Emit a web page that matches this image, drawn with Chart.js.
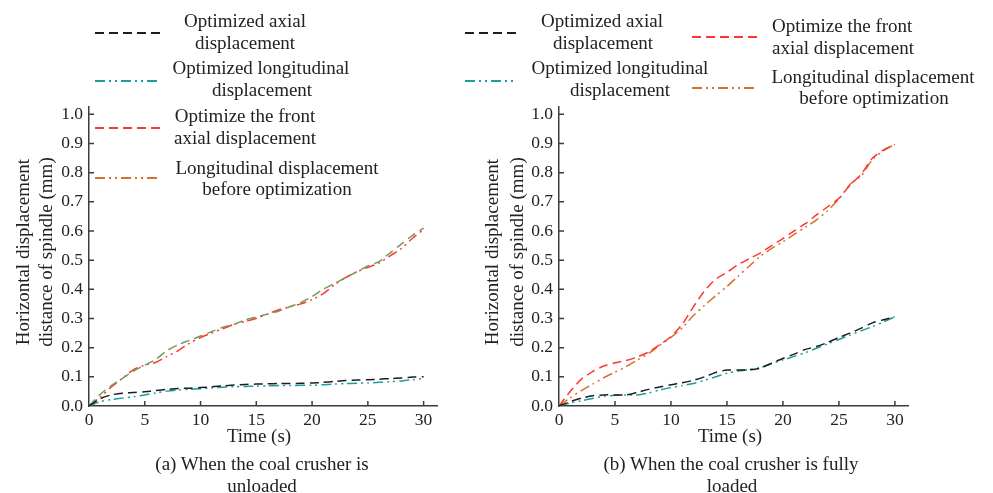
<!DOCTYPE html>
<html><head><meta charset="utf-8">
<script src="https://cdn.jsdelivr.net/npm/chart.js@4/dist/chart.umd.min.js"></script>
<style>
html,body{margin:0;padding:0;background:#fff;}
#wrap{position:relative;width:993px;height:493px;overflow:hidden;font-family:"Liberation Serif","Times New Roman",serif;color:#222;}
canvas{position:absolute;top:0;}
.t{position:absolute;white-space:nowrap;transform:translate(-50%,-50%);font-size:19px;line-height:1;}
.l{position:absolute;white-space:nowrap;transform:translate(0,-50%);font-size:19px;line-height:1;}
.r{position:absolute;white-space:nowrap;transform:translate(-50%,-50%) rotate(-90deg);font-size:19px;line-height:1;}
</style></head>
<body><div id="wrap">
<canvas id="c1" width="455" height="493" style="left:0"></canvas>
<canvas id="c2" width="538" height="493" style="left:455px"></canvas>

<div class="t" style="left:245px;top:20px">Optimized axial</div>
<div class="t" style="left:245px;top:42px">displacement</div>
<div class="t" style="left:261px;top:67px">Optimized longitudinal</div>
<div class="t" style="left:262px;top:89px">displacement</div>
<div class="t" style="left:245px;top:115px">Optimize the front</div>
<div class="t" style="left:245px;top:137px">axial displacement</div>
<div class="t" style="left:277px;top:167px">Longitudinal displacement</div>
<div class="t" style="left:277px;top:188px">before optimization</div>

<div class="t" style="left:602px;top:20px">Optimized axial</div>
<div class="t" style="left:603px;top:42px">displacement</div>
<div class="t" style="left:620px;top:67px">Optimized longitudinal</div>
<div class="t" style="left:620px;top:89px">displacement</div>
<div class="l" style="left:772px;top:25px">Optimize the front</div>
<div class="l" style="left:772px;top:47px">axial displacement</div>
<div class="t" style="left:873px;top:76px">Longitudinal displacement</div>
<div class="t" style="left:874px;top:97px">before optimization</div>

<div class="r" style="left:22px;top:252px">Horizontal displacement</div>
<div class="r" style="left:45px;top:252px">distance of spindle (mm)</div>
<div class="r" style="left:491px;top:252px">Horizontal displacement</div>
<div class="r" style="left:516px;top:252px">distance of spindle (mm)</div>

<div class="t" style="left:259px;top:435px">Time (s)</div>
<div class="t" style="left:730px;top:435px">Time (s)</div>
<div class="t" style="left:262px;top:463px">(a) When the coal crusher is</div>
<div class="t" style="left:262px;top:485px">unloaded</div>
<div class="t" style="left:731px;top:463px">(b) When the coal crusher is fully</div>
<div class="t" style="left:732px;top:485px">loaded</div>
</div>
<script>
// ---- data ----
const time = [0,1,2,3,4,5,6,7,8,9,10,11,12,13,14,15,16,17,18,19,20,21,22,23,24,25,26,27,28,29,30];
const xTicks = [0,5,10,15,20,25,30];
const yTicks = [0,0.1,0.2,0.3,0.4,0.5,0.6,0.7,0.8,0.9,1.0];

// (a) unloaded
const unloadedAxialOpt = [0,0.025,0.038,0.044,0.046,0.049,0.053,0.057,0.060,0.061,0.063,0.066,0.069,0.072,0.074,0.075,0.076,0.077,0.077,0.078,0.079,0.081,0.084,0.087,0.089,0.090,0.092,0.094,0.096,0.099,0.100];
const unloadedLongOpt = [0,0.015,0.022,0.027,0.032,0.038,0.045,0.051,0.055,0.057,0.059,0.062,0.064,0.066,0.067,0.068,0.069,0.070,0.070,0.071,0.071,0.073,0.075,0.077,0.078,0.079,0.081,0.083,0.086,0.090,0.095];
const unloadedFrontAxial = [0,0.040,0.070,0.095,0.120,0.140,0.160,0.190,0.210,0.225,0.240,0.255,0.270,0.280,0.295,0.305,0.315,0.325,0.340,0.355,0.375,0.400,0.420,0.440,0.460,0.480,0.495,0.525,0.555,0.585,0.610];
const unloadedLongBefore = [0,0.030,0.065,0.095,0.125,0.140,0.150,0.170,0.190,0.215,0.235,0.250,0.265,0.280,0.290,0.300,0.315,0.330,0.340,0.350,0.365,0.385,0.415,0.440,0.460,0.475,0.490,0.515,0.540,0.575,0.605];

// (b) fully loaded
const loadedAxialOpt = [0,0.015,0.027,0.035,0.038,0.038,0.038,0.047,0.057,0.065,0.073,0.080,0.088,0.100,0.115,0.123,0.123,0.124,0.130,0.147,0.163,0.178,0.194,0.204,0.218,0.235,0.250,0.267,0.285,0.296,0.306];
const loadedLongOpt = [0,0.010,0.018,0.026,0.033,0.037,0.038,0.038,0.045,0.055,0.063,0.070,0.077,0.088,0.100,0.112,0.120,0.125,0.132,0.145,0.158,0.170,0.183,0.198,0.213,0.228,0.243,0.258,0.272,0.289,0.306];
const loadedFrontAxial = [0,0.050,0.092,0.118,0.137,0.148,0.156,0.168,0.185,0.210,0.238,0.280,0.340,0.395,0.435,0.458,0.485,0.505,0.525,0.550,0.574,0.600,0.625,0.655,0.683,0.712,0.757,0.795,0.850,0.878,0.897];
const loadedLongBefore = [0,0.028,0.053,0.075,0.097,0.116,0.135,0.158,0.180,0.208,0.235,0.268,0.310,0.345,0.378,0.410,0.445,0.480,0.514,0.540,0.563,0.588,0.613,0.638,0.670,0.710,0.760,0.790,0.845,0.876,0.897];

const seriesNames = ['Optimized axial displacement','Optimized longitudinal displacement','Optimize the front axial displacement','Longitudinal displacement before optimization'];

// ---- styles ----
const DASH = [9,5];
const DDOT = [10,4,2,4,2,4];
const C_BLACK = '#1e1e1e', C_TEAL = '#1f9c9c', C_RED = '#ff3535', C_ORANGE = '#d9702a', C_GREEN = '#6f9e55';
const AXIS = '#3c3c3c';

const pts = arr => arr.map((v,i)=>({x:time[i], y:v}));
const ds = (label, arr, color, dash) => ({label, data: pts(arr), borderColor: color, borderDash: dash, borderWidth: 1.5, pointRadius: 0, tension: 0.25, fill: false});

const inwardTicks = {
  id: 'inwardTicks',
  afterDatasetsDraw(chart){
    const {ctx, chartArea:a, scales:{x, y}} = chart;
    ctx.save(); ctx.strokeStyle = AXIS; ctx.lineWidth = 1.5; ctx.setLineDash([]);
    ctx.beginPath();
    x.ticks.forEach(t=>{ if(t.value===0) return; const px = x.getPixelForValue(t.value); ctx.moveTo(px, a.bottom); ctx.lineTo(px, a.bottom-5); });
    y.ticks.forEach(t=>{ if(t.value===0) return; const py = y.getPixelForValue(t.value); ctx.moveTo(a.left, py); ctx.lineTo(a.left+5, py); });
    ctx.stroke(); ctx.restore();
  }
};
const sampleLegend = {
  id: 'sampleLegend',
  afterDraw(chart, args, opts){
    const ctx = chart.ctx;
    (opts.items||[]).forEach(it=>{
      ctx.save(); ctx.strokeStyle = it.color; ctx.lineWidth = 2; ctx.setLineDash(it.dash);
      ctx.beginPath(); ctx.moveTo(it.x1, it.y); ctx.lineTo(it.x2, it.y); ctx.stroke(); ctx.restore();
    });
  }
};

function makeChart(id, datasets, left, right, cw, xmax, legendItems){
  return new Chart(document.getElementById(id), {
    type: 'line',
    data: { datasets },
    plugins: [inwardTicks, sampleLegend],
    options: {
      responsive: false, animation: false,
      layout: { padding: { left: 0, top: 107, right: cw - right, bottom: 0 } },
      plugins: { legend: { display: false }, tooltip: { enabled: false }, sampleLegend: { items: legendItems } },
      scales: {
        x: {
          type: 'linear', min: 0, max: xmax,
          afterBuildTicks: s => { s.ticks = xTicks.map(v=>({value:v})); },
          afterFit: s => { s.height = 493 - 406; },
          grid: { display: false, drawTicks: false },
          border: { display: true, color: AXIS, width: 1.5 },
          ticks: { color: '#222', font: { family: 'Liberation Serif', size: 17.5 }, padding: 4, maxRotation: 0 }
        },
        y: {
          type: 'linear', min: 0, max: 1.025,
          afterBuildTicks: s => { s.ticks = yTicks.map(v=>({value:v})); },
          afterFit: s => { s.width = left; },
          grid: { display: false, drawTicks: false },
          border: { display: true, color: AXIS, width: 1.5 },
          ticks: { color: '#222', font: { family: 'Liberation Serif', size: 17.5 }, padding: 6, callback: v => Number(v).toFixed(1) }
        }
      }
    }
  });
}

makeChart('c1', [
  ds(seriesNames[0], unloadedAxialOpt, C_BLACK, DASH),
  ds(seriesNames[1], unloadedLongOpt, C_TEAL, DDOT),
  ds(seriesNames[2], unloadedFrontAxial, C_GREEN, DASH),
  ds(seriesNames[3], unloadedLongBefore, C_RED, DDOT)
], 89, 437, 455, 31.2, [
  {x1:95, x2:160, y:33, color:C_BLACK, dash:DASH},
  {x1:95, x2:158, y:81, color:C_TEAL, dash:DDOT},
  {x1:95, x2:160, y:128, color:C_RED, dash:DASH},
  {x1:95, x2:158, y:178, color:C_ORANGE, dash:DDOT}
]);

makeChart('c2', [
  ds(seriesNames[0], loadedAxialOpt, C_BLACK, DASH),
  ds(seriesNames[1], loadedLongOpt, C_TEAL, DDOT),
  ds(seriesNames[2], loadedFrontAxial, C_RED, DASH),
  ds(seriesNames[3], loadedLongBefore, C_ORANGE, DDOT)
], 104, 453, 538, 31.17, [
  {x1:10, x2:63, y:33, color:C_BLACK, dash:DASH},
  {x1:10, x2:60, y:81, color:C_TEAL, dash:DDOT},
  {x1:237, x2:302, y:37, color:C_RED, dash:DASH},
  {x1:237, x2:302, y:88, color:C_ORANGE, dash:DDOT}
]);
</script>
</body></html>
